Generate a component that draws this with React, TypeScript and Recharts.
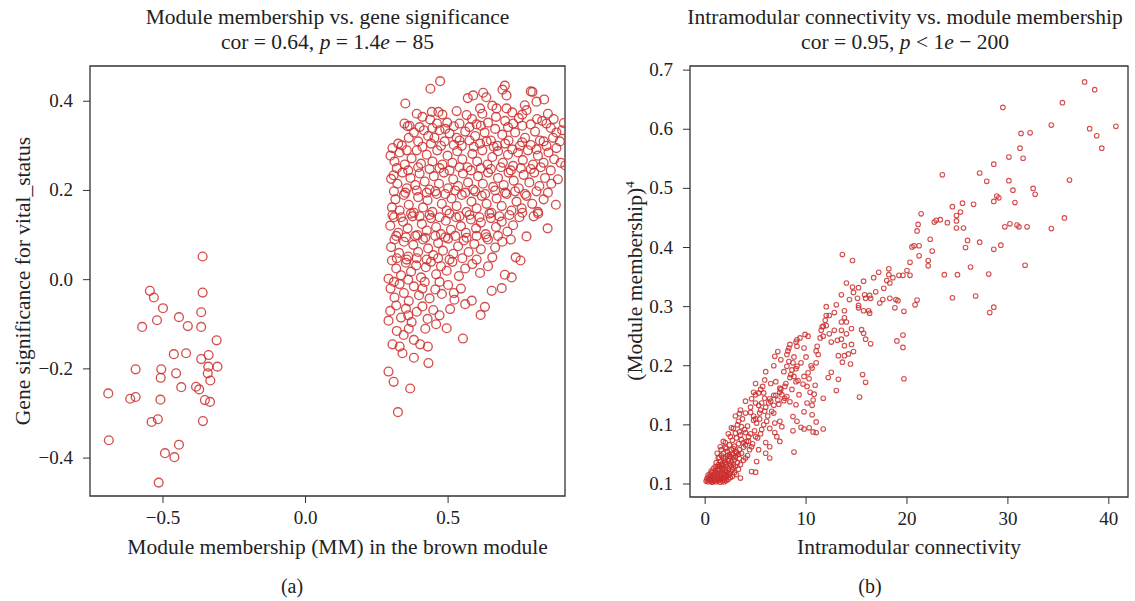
import React from 'react';
import {
  ScatterChart,
  Scatter,
  XAxis,
  YAxis,
  ReferenceArea,
} from 'recharts';

// panel (a): module membership vs gene significance
const mmTicks = [-0.5, 0, 0.5];
const gsTicks = [-0.4, -0.2, 0, 0.2, 0.4];

const negativeGenes: [number, number][] = [
  [-0.361, 0.052], [-0.546, -0.025], [-0.532, -0.04], [-0.5, -0.064], [-0.361, -0.029],
  [-0.366, -0.073], [-0.521, -0.091], [-0.444, -0.084], [-0.413, -0.104], [-0.573, -0.106],
  [-0.366, -0.106], [-0.312, -0.136], [-0.462, -0.167], [-0.419, -0.165], [-0.34, -0.169],
  [-0.366, -0.178], [-0.596, -0.201], [-0.506, -0.201], [-0.341, -0.195], [-0.309, -0.195],
  [-0.454, -0.21], [-0.343, -0.21], [-0.508, -0.22], [-0.334, -0.226], [-0.436, -0.241],
  [-0.384, -0.24], [-0.373, -0.246], [-0.692, -0.255], [-0.615, -0.267], [-0.596, -0.263],
  [-0.509, -0.269], [-0.353, -0.27], [-0.335, -0.274], [-0.518, -0.313], [-0.54, -0.319],
  [-0.36, -0.317], [-0.69, -0.36], [-0.444, -0.37], [-0.493, -0.389], [-0.46, -0.398],
  [-0.515, -0.455],
];

const positiveGenes: [number, number][] = [
  [0.472, 0.445], [0.438, 0.428], [0.699, 0.435], [0.691, 0.426], [0.79, 0.422], [0.796, 0.421],
  [0.35, 0.395], [0.569, 0.407], [0.588, 0.413], [0.623, 0.419], [0.634, 0.409], [0.705, 0.413],
  [0.81, 0.399], [0.837, 0.404], [0.769, 0.391], [0.612, 0.384], [0.67, 0.384], [0.705, 0.384],
  [0.775, 0.38],
  [0.443, 0.376], [0.466, 0.376], [0.437, 0.359], [0.461, 0.35], [0.347, 0.35], [0.358, 0.344],
  [0.565, 0.369], [0.668, 0.365], [0.906, 0.351], [0.497, 0.352], [0.52, 0.344], [0.584, 0.36],
  [0.6, 0.348], [0.64, 0.352], [0.7, 0.356], [0.728, 0.35], [0.748, 0.362], [0.812, 0.36],
  [0.83, 0.356], [0.86, 0.34], [0.88, 0.33],
  [0.338, 0.301], [0.362, 0.318], [0.38, 0.33], [0.395, 0.31], [0.415, 0.335], [0.43, 0.322],
  [0.452, 0.318], [0.47, 0.335], [0.488, 0.31], [0.505, 0.328], [0.53, 0.318], [0.548, 0.3],
  [0.56, 0.332], [0.575, 0.312], [0.595, 0.322], [0.612, 0.305], [0.628, 0.33], [0.65, 0.312],
  [0.672, 0.3], [0.69, 0.325], [0.712, 0.312], [0.735, 0.33], [0.752, 0.3], [0.77, 0.318],
  [0.79, 0.302], [0.805, 0.332], [0.822, 0.312], [0.845, 0.3], [0.868, 0.318], [0.892, 0.31],
  [0.298, 0.278], [0.312, 0.265], [0.33, 0.285], [0.348, 0.258], [0.372, 0.272], [0.39, 0.29],
  [0.405, 0.26], [0.425, 0.28], [0.445, 0.265], [0.462, 0.29], [0.48, 0.258], [0.498, 0.278],
  [0.515, 0.262], [0.532, 0.288], [0.55, 0.27], [0.568, 0.252], [0.585, 0.282], [0.602, 0.265],
  [0.62, 0.29], [0.638, 0.258], [0.655, 0.275], [0.675, 0.288], [0.692, 0.262], [0.71, 0.28],
  [0.728, 0.255], [0.745, 0.285], [0.762, 0.268], [0.78, 0.29], [0.798, 0.258], [0.815, 0.278],
  [0.835, 0.262], [0.852, 0.285], [0.872, 0.27], [0.895, 0.262], [0.911, 0.256],
  [0.3, 0.226], [0.309, 0.234], [0.322, 0.215], [0.34, 0.24], [0.355, 0.205], [0.368, 0.228],
  [0.385, 0.212], [0.4, 0.238], [0.418, 0.22], [0.435, 0.202], [0.45, 0.232], [0.468, 0.215],
  [0.485, 0.24], [0.5, 0.205], [0.518, 0.225], [0.535, 0.21], [0.552, 0.238], [0.57, 0.218],
  [0.588, 0.202], [0.605, 0.232], [0.622, 0.215], [0.64, 0.24], [0.658, 0.208], [0.675, 0.228],
  [0.695, 0.212], [0.712, 0.24], [0.73, 0.222], [0.748, 0.205], [0.765, 0.235], [0.785, 0.218],
  [0.802, 0.24], [0.82, 0.21], [0.84, 0.228], [0.862, 0.215], [0.885, 0.225],
  [0.303, 0.162], [0.315, 0.18], [0.33, 0.155], [0.345, 0.19], [0.362, 0.168], [0.38, 0.15],
  [0.395, 0.185], [0.412, 0.162], [0.428, 0.178], [0.445, 0.152], [0.46, 0.192], [0.478, 0.17],
  [0.495, 0.155], [0.512, 0.182], [0.53, 0.165], [0.548, 0.19], [0.565, 0.152], [0.582, 0.175],
  [0.6, 0.16], [0.618, 0.188], [0.635, 0.17], [0.652, 0.15], [0.67, 0.182], [0.688, 0.165],
  [0.705, 0.192], [0.722, 0.155], [0.74, 0.175], [0.758, 0.16], [0.775, 0.188], [0.795, 0.17],
  [0.815, 0.152], [0.835, 0.18], [0.878, 0.168], [0.816, 0.148],
  [0.297, 0.121], [0.31, 0.14], [0.325, 0.105], [0.342, 0.13], [0.358, 0.115], [0.375, 0.142],
  [0.392, 0.1], [0.408, 0.125], [0.425, 0.11], [0.44, 0.138], [0.458, 0.118], [0.475, 0.102],
  [0.492, 0.132], [0.51, 0.112], [0.528, 0.14], [0.545, 0.12], [0.562, 0.105], [0.58, 0.135],
  [0.598, 0.115], [0.615, 0.128], [0.632, 0.102], [0.65, 0.138], [0.668, 0.118], [0.688, 0.13],
  [0.708, 0.108], [0.728, 0.122], [0.75, 0.14], [0.775, 0.097], [0.849, 0.115],
  [0.3, 0.073], [0.312, 0.09], [0.328, 0.06], [0.345, 0.085], [0.36, 0.052], [0.378, 0.078],
  [0.395, 0.062], [0.412, 0.09], [0.43, 0.07], [0.448, 0.055], [0.465, 0.082], [0.482, 0.065],
  [0.5, 0.092], [0.518, 0.058], [0.535, 0.075], [0.555, 0.088], [0.572, 0.062], [0.592, 0.08],
  [0.615, 0.068], [0.64, 0.09], [0.665, 0.072], [0.69, 0.085], [0.737, 0.05], [0.754, 0.043],
  [0.303, 0.043], [0.291, 0.002], [0.318, 0.025], [0.335, 0.01], [0.352, 0.038], [0.37, 0.018],
  [0.388, 0.032], [0.405, 0.005], [0.422, 0.028], [0.44, 0.04], [0.458, 0.012], [0.475, 0.03],
  [0.495, 0.02], [0.515, 0.04], [0.538, 0.008], [0.56, 0.025], [0.585, 0.035], [0.612, 0.015],
  [0.64, 0.03], [0.699, 0.011], [0.723, 0.005],
  [0.298, -0.02], [0.312, -0.04], [0.33, -0.01], [0.345, -0.03], [0.362, -0.048], [0.38, -0.015],
  [0.398, -0.035], [0.418, -0.005], [0.435, -0.042], [0.455, -0.022], [0.478, -0.032], [0.5, -0.012],
  [0.522, -0.045], [0.545, -0.02], [0.583, -0.047], [0.653, -0.025], [0.688, -0.019],
  [0.297, -0.07], [0.291, -0.092], [0.318, -0.058], [0.335, -0.085], [0.352, -0.065], [0.372, -0.095],
  [0.39, -0.072], [0.41, -0.06], [0.428, -0.088], [0.448, -0.068], [0.47, -0.08], [0.507, -0.066],
  [0.458, -0.1], [0.629, -0.061], [0.614, -0.079], [0.495, -0.109],
  [0.344, -0.124], [0.305, -0.145], [0.32, -0.115], [0.362, -0.11], [0.38, -0.135], [0.402, -0.145],
  [0.429, -0.15], [0.552, -0.132], [0.38, -0.175], [0.431, -0.187], [0.291, -0.206], [0.309, -0.229],
  [0.367, -0.244], [0.324, -0.297], [0.34, -0.165],
  // second pass over the dense core
  [0.39, 0.372], [0.41, 0.365], [0.48, 0.37], [0.53, 0.378], [0.62, 0.372], [0.655, 0.39],
  [0.725, 0.375], [0.76, 0.37], [0.85, 0.372], [0.87, 0.36],
  [0.365, 0.345], [0.4, 0.342], [0.445, 0.34], [0.49, 0.338], [0.54, 0.35], [0.575, 0.342],
  [0.615, 0.345], [0.665, 0.338], [0.71, 0.342], [0.76, 0.345], [0.79, 0.348], [0.845, 0.35], [0.9, 0.335],
  [0.305, 0.295], [0.325, 0.305], [0.355, 0.29], [0.41, 0.298], [0.44, 0.305], [0.475, 0.3],
  [0.52, 0.302], [0.54, 0.312], [0.59, 0.298], [0.635, 0.31], [0.66, 0.298], [0.7, 0.305],
  [0.725, 0.292], [0.76, 0.308], [0.81, 0.292], [0.835, 0.31], [0.88, 0.295],
  [0.32, 0.25], [0.36, 0.245], [0.395, 0.252], [0.435, 0.248], [0.47, 0.25], [0.505, 0.245],
  [0.54, 0.252], [0.58, 0.245], [0.615, 0.25], [0.65, 0.248], [0.685, 0.252], [0.72, 0.245],
  [0.755, 0.25], [0.79, 0.248], [0.825, 0.252], [0.86, 0.245],
  [0.31, 0.198], [0.35, 0.195], [0.39, 0.2], [0.425, 0.195], [0.455, 0.198], [0.49, 0.192],
  [0.525, 0.2], [0.56, 0.195], [0.595, 0.198], [0.63, 0.192], [0.665, 0.2], [0.7, 0.195],
  [0.735, 0.198], [0.77, 0.192], [0.81, 0.198], [0.85, 0.195],
  [0.305, 0.145], [0.335, 0.14], [0.37, 0.148], [0.4, 0.142], [0.435, 0.145], [0.47, 0.14],
  [0.505, 0.148], [0.54, 0.142], [0.575, 0.145], [0.61, 0.14], [0.645, 0.148], [0.68, 0.142],
  [0.715, 0.145], [0.76, 0.15], [0.8, 0.142],
  [0.318, 0.098], [0.352, 0.095], [0.385, 0.098], [0.42, 0.094], [0.455, 0.098], [0.49, 0.095],
  [0.525, 0.098], [0.565, 0.094], [0.6, 0.098], [0.635, 0.095], [0.675, 0.098], [0.72, 0.09],
  [0.32, 0.048], [0.355, 0.045], [0.39, 0.048], [0.425, 0.045], [0.465, 0.048], [0.505, 0.045],
  [0.55, 0.048], [0.6, 0.045], [0.655, 0.05],
  [0.31, -0.005], [0.36, 0.0], [0.41, -0.02], [0.47, -0.005], [0.52, -0.03], [0.56, -0.055],
  [0.36, -0.08], [0.42, -0.11], [0.33, -0.15],
];

// panel (b): intramodular connectivity vs (module membership)^4
const kTicks = [0, 10, 20, 30, 40];
const mm4Ticks = [0, 0.1, 0.2, 0.3, 0.4, 0.5, 0.6, 0.7];
const mm4TickLabels = ['0.1', '0.1', '0.2', '0.3', '0.4', '0.5', '0.6', '0.7'];

const hubGenes: [number, number][] = [
  [37.6, 0.68], [38.6, 0.667], [35.4, 0.645], [29.5, 0.637], [34.3, 0.607], [38.1, 0.601],
  [40.7, 0.605], [38.8, 0.589], [39.3, 0.568], [31.3, 0.593], [32.2, 0.594], [31.2, 0.568],
  [31.5, 0.551], [30.1, 0.553], [28.6, 0.541], [27.2, 0.526], [23.5, 0.523], [27.9, 0.512],
  [30.1, 0.513], [36.1, 0.514], [30.5, 0.497], [32.5, 0.5], [32.7, 0.49], [28.9, 0.487],
  [29.1, 0.484], [28.6, 0.478], [30.7, 0.476], [26.6, 0.473], [25.5, 0.475], [24.5, 0.469],
  [25.3, 0.46], [24.9, 0.454], [21.4, 0.457], [35.6, 0.45], [24.9, 0.445], [23.3, 0.447],
  [22.9, 0.446], [22.7, 0.443], [24.0, 0.442], [21.1, 0.439], [21.0, 0.428], [24.9, 0.433],
  [25.6, 0.433], [29.7, 0.435], [30.2, 0.44], [30.9, 0.438], [31.1, 0.435], [31.9, 0.435],
  [34.3, 0.432], [22.3, 0.414], [26.0, 0.412], [27.2, 0.409], [29.3, 0.404], [28.6, 0.397],
  [25.8, 0.4], [20.5, 0.401], [21.2, 0.403], [20.7, 0.403], [22.5, 0.394], [21.2, 0.386],
  [22.1, 0.378], [22.1, 0.369], [20.3, 0.375], [14.6, 0.378], [18.2, 0.364], [20.0, 0.361],
  [26.3, 0.367], [31.7, 0.37], [17.2, 0.358], [18.2, 0.354], [19.2, 0.353], [19.6, 0.353],
  [20.3, 0.353], [23.7, 0.354], [25.0, 0.354], [28.1, 0.355], [16.7, 0.349], [18.6, 0.349],
  [18.0, 0.344], [18.3, 0.34], [15.7, 0.343], [17.7, 0.331], [16.9, 0.325], [15.2, 0.332],
  [14.6, 0.333], [14.7, 0.324], [15.8, 0.32], [16.3, 0.319], [16.4, 0.314], [15.9, 0.314],
  [15.1, 0.314], [17.6, 0.312], [18.3, 0.314], [18.9, 0.312], [19.1, 0.31], [21.0, 0.311],
  [17.3, 0.306], [20.8, 0.303], [24.5, 0.315], [26.8, 0.318], [15.2, 0.302], [15.2, 0.298],
  [18.8, 0.298], [28.6, 0.299], [28.2, 0.29], [15.7, 0.293], [16.2, 0.293], [16.3, 0.289],
  [19.7, 0.292],
];

const midGenes: [number, number][] = [
  [13.6, 0.388], [14.0, 0.34], [13.0, 0.303], [14.3, 0.312], [13.8, 0.293], [13.8, 0.281],
  [14.0, 0.274], [13.5, 0.274], [11.9, 0.277], [12.3, 0.285], [12.0, 0.285], [11.6, 0.266],
  [12.0, 0.268], [12.8, 0.26], [13.5, 0.26], [14.5, 0.263], [14.0, 0.254], [12.3, 0.254],
  [11.7, 0.25], [13.5, 0.245], [13.1, 0.243], [15.5, 0.261], [15.7, 0.255], [15.9, 0.245],
  [16.4, 0.237], [14.5, 0.236], [13.8, 0.234], [14.7, 0.224], [13.2, 0.217], [13.8, 0.217],
  [14.2, 0.22], [13.6, 0.206], [14.4, 0.203], [19.0, 0.242], [19.6, 0.231], [19.6, 0.252],
  [19.7, 0.178], [15.6, 0.185], [15.9, 0.172], [15.3, 0.147], [13.0, 0.158], [12.2, 0.18],
  [12.5, 0.189], [13.2, 0.177], [11.7, 0.145], [11.7, 0.093], [11.0, 0.087], [10.7, 0.088],
  [10.3, 0.095], [9.8, 0.093], [9.5, 0.096], [8.7, 0.09], [8.8, 0.054], [11.0, 0.105],
  [10.6, 0.117], [9.8, 0.122], [9.1, 0.106], [8.7, 0.114], [10.6, 0.133], [10.1, 0.137],
  [10.7, 0.142], [10.8, 0.152], [10.4, 0.155], [9.0, 0.134], [8.4, 0.139], [7.8, 0.141],
  [8.1, 0.148], [9.3, 0.151], [10.1, 0.165], [10.9, 0.167], [9.7, 0.169], [10.3, 0.178],
  [9.8, 0.182], [9.0, 0.173], [8.8, 0.182], [8.4, 0.18], [8.6, 0.193], [7.9, 0.165],
  [7.4, 0.162], [7.4, 0.155], [6.8, 0.15], [6.4, 0.144], [6.3, 0.137], [5.9, 0.145],
  [5.7, 0.165], [5.9, 0.176], [5.8, 0.154], [5.3, 0.154], [5.0, 0.151], [4.6, 0.144],
  [5.0, 0.137], [5.3, 0.133], [6.8, 0.133], [6.6, 0.123], [5.9, 0.123], [5.4, 0.12],
  [4.5, 0.121], [4.0, 0.12], [3.4, 0.119], [4.8, 0.108], [5.4, 0.11], [5.1, 0.103],
  [6.1, 0.106], [6.9, 0.103], [7.4, 0.106], [7.6, 0.097], [6.4, 0.094], [5.6, 0.092],
  [6.9, 0.087], [7.4, 0.072], [7.1, 0.08], [6.4, 0.063], [6.0, 0.052], [6.4, 0.044],
  [5.0, 0.08], [4.3, 0.072], [4.0, 0.087], [3.5, 0.083], [3.0, 0.086], [2.5, 0.08],
  [1.8, 0.072], [1.5, 0.063], [3.3, 0.106], [3.6, 0.097], [2.8, 0.094], [4.6, 0.063],
  [5.3, 0.058], [5.1, 0.038], [4.6, 0.021], [3.5, 0.01], [5.0, 0.02], [4.0, 0.044],
  [3.1, 0.052], [2.5, 0.046], [1.8, 0.052], [2.1, 0.06], [1.3, 0.044], [8.1, 0.219],
  [7.2, 0.224], [6.9, 0.216], [8.4, 0.236], [8.3, 0.23], [9.1, 0.244], [9.4, 0.247],
  [9.9, 0.253], [9.1, 0.233], [8.3, 0.207], [8.7, 0.205], [9.1, 0.199], [8.1, 0.199],
  [11.1, 0.233], [11.2, 0.219], [11.0, 0.205], [10.6, 0.196], [10.2, 0.188], [11.4, 0.247],
  [11.7, 0.267], [7.0, 0.173], [7.6, 0.151], [7.2, 0.142], [5.6, 0.137],
  [2.0, 0.07], [2.6, 0.095], [3.2, 0.1], [3.7, 0.11], [4.2, 0.098], [4.8, 0.115], [5.5, 0.125],
  [6.0, 0.13], [6.5, 0.14], [7.0, 0.15], [7.5, 0.16], [8.0, 0.17], [8.5, 0.185], [9.0, 0.195],
  [9.5, 0.205], [10.0, 0.215], [4.5, 0.13], [5.0, 0.11], [5.8, 0.1], [6.2, 0.115], [6.8, 0.12],
  [7.3, 0.135], [7.9, 0.145], [8.6, 0.16], [9.2, 0.175], [3.0, 0.115], [3.5, 0.125], [4.0, 0.14],
  [3.8, 0.07], [4.3, 0.08], [4.9, 0.09], [5.5, 0.085], [6.0, 0.07], [2.4, 0.05], [3.0, 0.055],
  [1.5, 0.03], [11.0, 0.225], [12.5, 0.24], [10.5, 0.2], [9.8, 0.23], [8.8, 0.215], [7.8, 0.19],
  [6.5, 0.17], [5.5, 0.16], [5.0, 0.17], [4.8, 0.155], [6.0, 0.19], [6.8, 0.2], [7.5, 0.21],
  [8.2, 0.225], [9.0, 0.24], [10.2, 0.25], [11.5, 0.26], [12.8, 0.29], [13.5, 0.32], [12.0, 0.3],
];

const lowGenes: [number, number][] = [
  [0.1, 0.005], [0.3, 0.004], [0.5, 0.006], [0.7, 0.003], [0.9, 0.005], [1.1, 0.004], [1.3, 0.006],
  [1.5, 0.003], [1.7, 0.005], [1.9, 0.004], [2.1, 0.006], [2.3, 0.008],
  [0.2, 0.01], [0.4, 0.012], [0.6, 0.009], [0.8, 0.013], [1.0, 0.01], [1.2, 0.014], [1.4, 0.011],
  [1.6, 0.013], [1.8, 0.01], [2.0, 0.012], [2.2, 0.014], [2.5, 0.011], [2.7, 0.013],
  [0.5, 0.017], [0.7, 0.02], [0.9, 0.016], [1.1, 0.019], [1.3, 0.022], [1.5, 0.018], [1.7, 0.021],
  [1.9, 0.017], [2.1, 0.02], [2.4, 0.018], [2.6, 0.022], [2.9, 0.019], [3.1, 0.016],
  [0.8, 0.026], [1.0, 0.029], [1.2, 0.025], [1.4, 0.03], [1.6, 0.027], [1.8, 0.031], [2.0, 0.026],
  [2.2, 0.029], [2.5, 0.032], [2.8, 0.027], [3.0, 0.03], [3.3, 0.025],
  [1.1, 0.036], [1.3, 0.033], [1.5, 0.038], [1.7, 0.035], [1.9, 0.04], [2.1, 0.034], [2.3, 0.039],
  [2.6, 0.037], [2.9, 0.041], [3.2, 0.036], [3.5, 0.033],
  [1.4, 0.045], [1.6, 0.048], [2.0, 0.044], [2.4, 0.047], [2.7, 0.05], [3.0, 0.046], [3.4, 0.043],
  [3.8, 0.04], [1.2, 0.052], [2.2, 0.055], [2.6, 0.058], [3.1, 0.054], [3.6, 0.052], [4.2, 0.048],
  [2.0, 0.062], [2.4, 0.066], [2.9, 0.064], [3.3, 0.068], [3.8, 0.062], [4.4, 0.058],
  [2.7, 0.074], [3.1, 0.078], [3.6, 0.075], [4.1, 0.072], [4.7, 0.068],
  [2.3, 0.085], [3.4, 0.088], [3.9, 0.092], [4.5, 0.085], [5.2, 0.078],
  [0.2, 0.007], [0.4, 0.008], [0.6, 0.005], [0.8, 0.007], [1.0, 0.006], [1.2, 0.008], [1.4, 0.007],
  [1.6, 0.009], [1.8, 0.007], [2.0, 0.009], [0.3, 0.015], [0.6, 0.014], [0.9, 0.012], [1.2, 0.017],
  [1.5, 0.015], [1.8, 0.016], [2.1, 0.016], [2.4, 0.015], [0.6, 0.022], [1.0, 0.023], [1.4, 0.024],
  [1.7, 0.025], [2.0, 0.023], [2.3, 0.025], [2.7, 0.024], [1.2, 0.03], [1.6, 0.033], [2.0, 0.037],
  [2.4, 0.035], [2.8, 0.033], [1.8, 0.044], [2.2, 0.048], [2.8, 0.045], [3.3, 0.05], [1.6, 0.058],
  [2.8, 0.06], [3.4, 0.058], [4.0, 0.066],
];

const toPoints = (pairs: [number, number][]) => pairs.map(([x, y]) => ({ x, y }));

const RED = '#cc2f2f';
const FONT = '"Liberation Serif", "DejaVu Serif", serif';
const minus = (s: string) => s.replace('-', '\u2212');
const labelStyle: React.CSSProperties = { fontFamily: FONT, fontSize: 19, fill: '#222' };

const BigRing = (props: any) => (
  <circle cx={props.cx} cy={props.cy} r={4.4} fill="none" stroke={RED} strokeWidth={1.35} strokeOpacity={0.85} />
);
const SmallRing = (props: any) => (
  <circle cx={props.cx} cy={props.cy} r={2.3} fill="none" stroke={RED} strokeWidth={1.1} strokeOpacity={0.85} />
);

const makeXTick = (fmt: (v: number) => string) => (props: any) => (
  <text x={props.x} y={props.y} dy={19} textAnchor="middle" style={labelStyle}>
    {fmt(props.payload.value)}
  </text>
);
const makeYTick = (fmt: (v: number, i: number) => string) => (props: any) => (
  <text x={props.x} y={props.y} dx={-8} dy={6} textAnchor="end" style={labelStyle}>
    {fmt(props.payload.value, props.index)}
  </text>
);

const abs = (left: number, top: number, extra: React.CSSProperties = {}): React.CSSProperties => ({
  position: 'absolute', left, top, fontFamily: FONT, color: '#222', whiteSpace: 'nowrap', ...extra,
});

export default function App() {
  const mmDomain: [number, number] = [-0.756, 0.91];
  const gsDomain: [number, number] = [-0.485, 0.479];
  const kDomain: [number, number] = [-1.5, 41.9];
  const mm4Domain: [number, number] = [-0.022, 0.707];

  return (
    <div style={{ position: 'absolute', left: 0, top: 0, width: 1135, height: 601, background: '#fff', overflow: 'hidden', fontFamily: FONT }}>
      {/* titles */}
      <div style={abs(0, 5, { width: 655, textAlign: 'center', fontSize: 21.5, lineHeight: '25px' })}>
        Module membership vs. gene significance<br />
        cor = 0.64, <i>p</i> = 1.4<i>e</i> − 85
      </div>
      <div style={abs(680, 5, { width: 450, textAlign: 'center', fontSize: 21.5, lineHeight: '25px' })}>
        Intramodular connectivity vs. module membership<br />
        cor = 0.95, <i>p</i> &lt; 1<i>e</i> − 200
      </div>

      {/* panel (a) */}
      <div style={abs(0, 0)}>
        <ScatterChart width={575} height={601} margin={{ top: 66, right: 10, bottom: 75, left: 0 }}>
          <XAxis type="number" dataKey="x" domain={mmDomain} ticks={mmTicks} allowDataOverflow
            axisLine={false} tickSize={7} tickLine={{ stroke: '#333' }} height={30}
            tick={makeXTick((v) => minus(v.toFixed(1)))} />
          <YAxis type="number" dataKey="y" domain={gsDomain} ticks={gsTicks} allowDataOverflow
            axisLine={false} tickSize={7} tickLine={{ stroke: '#333' }} width={90}
            tick={makeYTick((v) => minus(v.toFixed(1)))} />
          <ReferenceArea x1={mmDomain[0]} x2={mmDomain[1]} y1={gsDomain[0]} y2={gsDomain[1]}
            fill="none" stroke="#333" strokeWidth={1.3} fillOpacity={0} />
          <Scatter data={toPoints(negativeGenes)} shape={BigRing} isAnimationActive={false} />
          <Scatter data={toPoints(positiveGenes)} shape={BigRing} isAnimationActive={false} />
        </ScatterChart>
      </div>
      <div style={abs(-121, 268, { width: 290, textAlign: 'center', fontSize: 21.5, transform: 'rotate(-90deg)', transformOrigin: '145px 13px' })}>
        Gene significance for vital_status
      </div>
      <div style={abs(90, 535, { width: 495, textAlign: 'center', fontSize: 21.5 })}>
        Module membership (MM) in the brown module
      </div>
      <div style={abs(242, 575, { width: 100, textAlign: 'center', fontSize: 20 })}>(a)</div>

      {/* panel (b) */}
      <div style={abs(600, 0)}>
        <ScatterChart width={535} height={601} margin={{ top: 66, right: 7, bottom: 74, left: 0 }}>
          <XAxis type="number" dataKey="x" domain={kDomain} ticks={kTicks} allowDataOverflow
            axisLine={false} tickSize={7} tickLine={{ stroke: '#333' }} height={30}
            tick={makeXTick((v) => String(v))} />
          <YAxis type="number" dataKey="y" domain={mm4Domain} ticks={mm4Ticks} allowDataOverflow
            axisLine={false} tickSize={7} tickLine={{ stroke: '#333' }} width={90}
            tick={makeYTick((v, i) => mm4TickLabels[i] ?? v.toFixed(1))} />
          <ReferenceArea x1={kDomain[0]} x2={kDomain[1]} y1={mm4Domain[0]} y2={mm4Domain[1]}
            fill="none" stroke="#333" strokeWidth={1.3} fillOpacity={0} />
          <Scatter data={toPoints(lowGenes)} shape={SmallRing} isAnimationActive={false} />
          <Scatter data={toPoints(midGenes)} shape={SmallRing} isAnimationActive={false} />
          <Scatter data={toPoints(hubGenes)} shape={SmallRing} isAnimationActive={false} />
        </ScatterChart>
      </div>
      <div style={abs(495, 268, { width: 280, textAlign: 'center', fontSize: 21.5, transform: 'rotate(-90deg)', transformOrigin: '140px 13px' })}>
        (Module membership)<sup style={{ fontSize: 13 }}>4</sup>
      </div>
      <div style={abs(690, 535, { width: 438, textAlign: 'center', fontSize: 21.5 })}>
        Intramodular connectivity
      </div>
      <div style={abs(820, 575, { width: 100, textAlign: 'center', fontSize: 20 })}>(b)</div>
    </div>
  );
}
